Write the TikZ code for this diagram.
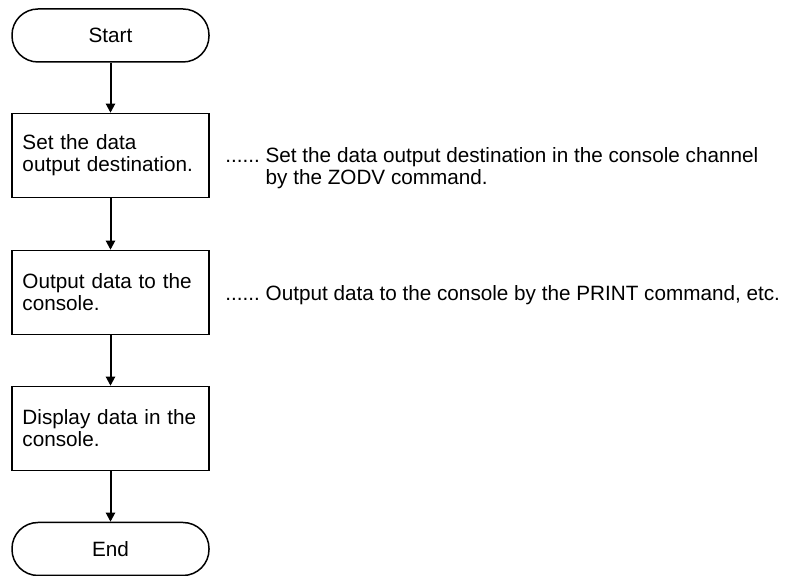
\documentclass[tikz,border=0pt]{standalone}
\usepackage{fontspec}
\setmainfont{Liberation Sans}
\usetikzlibrary{arrows.meta}

\begin{document}
\begin{tikzpicture}[x=0.5pt,y=-0.5pt,
  every node/.style={font=\fontsize{10.35}{11}\selectfont},
  terminal/.style={draw,line width=0.75pt,rounded corners=13pt,minimum width=98.5pt,minimum height=26.5pt,inner sep=0pt},
  process/.style={draw,line width=0.75pt,minimum width=98.5pt,minimum height=42pt,text width=88pt,align=left,inner xsep=5.25pt},
  note/.style={anchor=west,inner sep=0pt},
  flow/.style={line width=1pt,-{Triangle[length=4.5pt,width=4.5pt]}}]
\useasboundingbox (0,0) rectangle (794,576);
% flow chart
\node[terminal] (start) at (110.5,35.5) {Start};
\node[process] (setdest) at (110.5,155.5) {Set the data\\output destination.};
\node[process] (outdata) at (110.5,292.5) {Output data to the\\console.};
\node[process] (showdata) at (110.5,428.5) {Display data in the\\console.};
\node[terminal] (stop) at (110.5,549) {End};
\draw[flow] (start) -- (setdest);
\draw[flow] (setdest) -- (outdata);
\draw[flow] (outdata) -- (showdata);
\draw[flow] (showdata) -- (stop);
% notes
\node[note] (note1) at (225,169) {\begin{tabular}{@{}l@{~}l@{}}......&Set the data output destination in the console channel\\&by the ZODV command.\end{tabular}};
\node[note] (note2) at (225,295) {......~Output data to the console by the PRINT command, etc.};
\end{tikzpicture}
\end{document}
